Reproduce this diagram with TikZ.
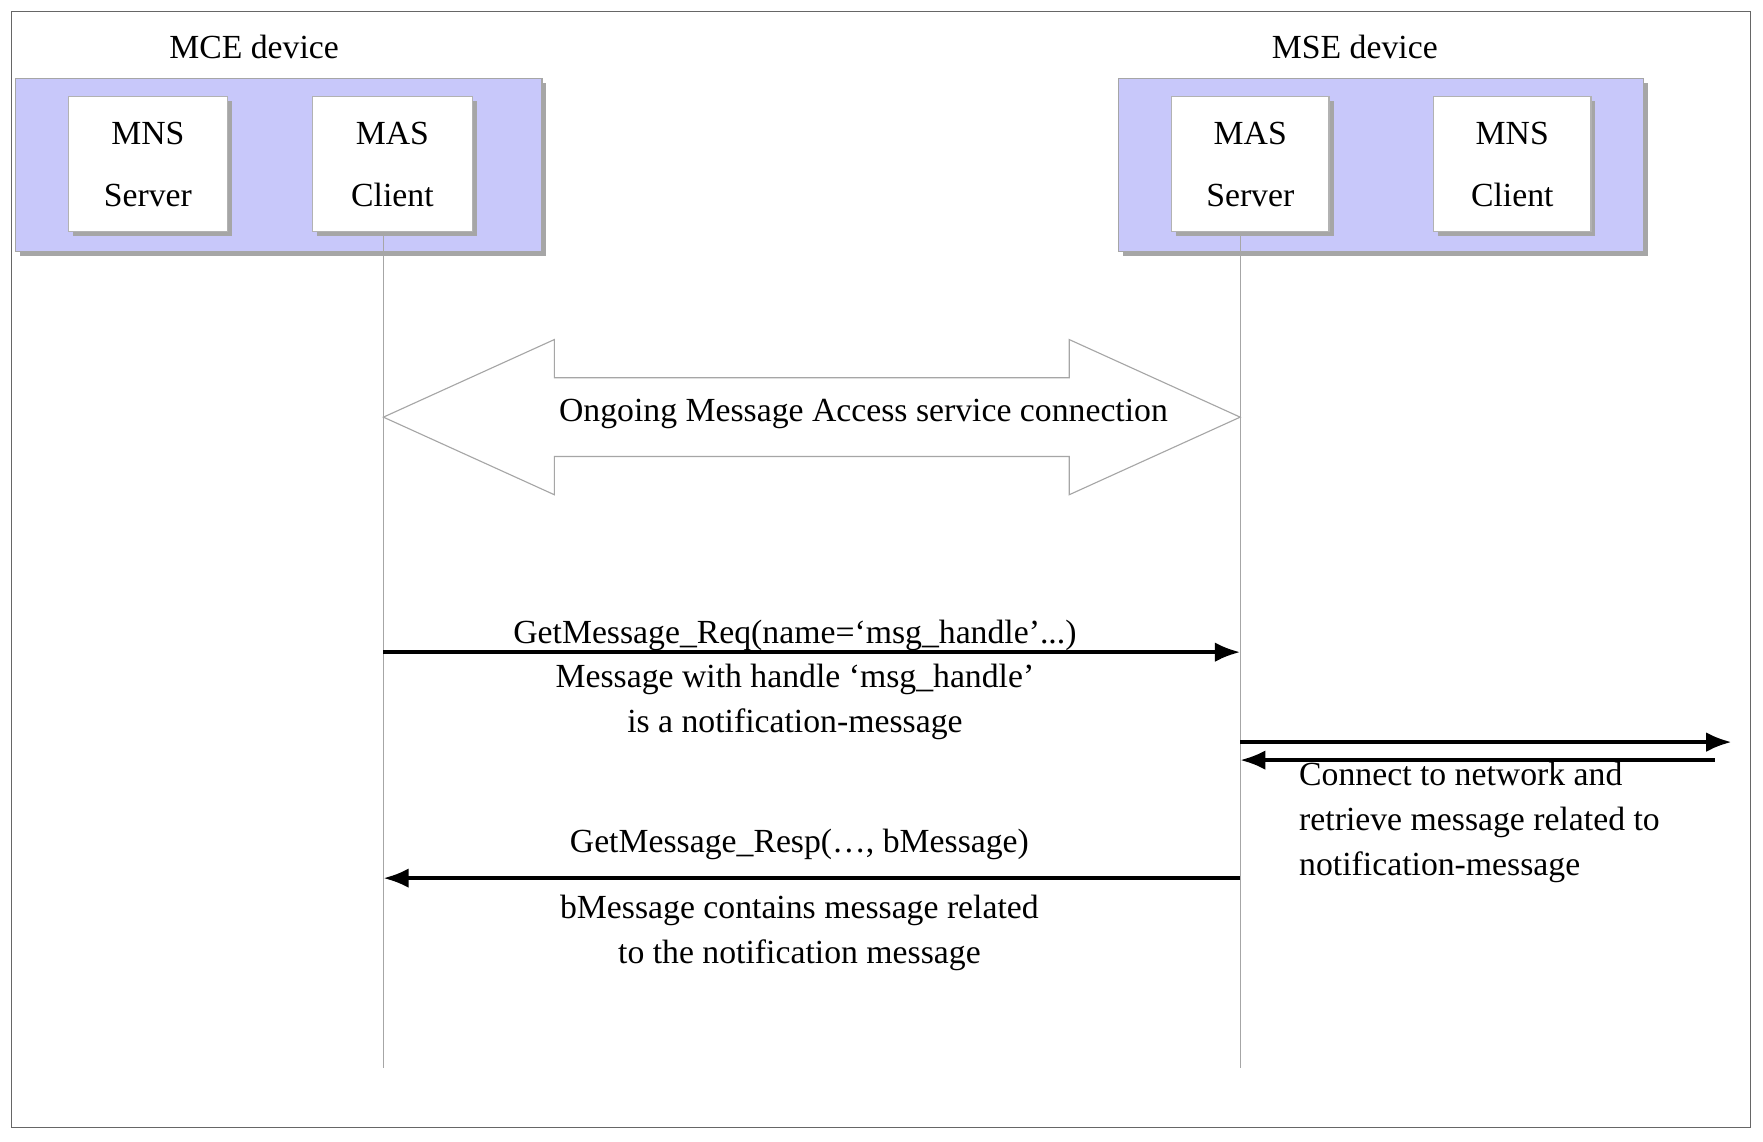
\documentclass[tikz,border=0pt]{standalone}
\usepackage{fontspec}
\setmainfont{Liberation Serif}
\begin{document}
\begin{tikzpicture}[x=0.4pt,y=-0.4pt,
  dev/.style={draw=gray!70,fill={rgb,255:red,200;green,200;blue,250}},
  box/.style={draw=gray!60,fill=white},
  shadow/.style={fill=gray!70,draw=none},
  lbl/.style={font=\fontsize{12}{16}\selectfont,align=center,inner sep=0pt},
  life/.style={draw=gray!70,line width=0.4pt},
  msg/.style={line width=1.3pt,-{Latex[length=9pt,width=7pt]}}]
\usetikzlibrary{arrows.meta}
\useasboundingbox (0,0) rectangle (1568,1015);
\draw[gray!80!black] (10,10) rectangle (1557,1003);
% devices
\fill[shadow] (18,74) rectangle (486,228);
\draw[dev] (14,70) rectangle (482,224);
\fill[shadow] (999,74) rectangle (1466,228);
\draw[dev] (995,70) rectangle (1462,224);
\node[lbl] (mce) at (226,42) {MCE device};
\node[lbl] (mse) at (1205,42) {MSE device};
\foreach \n/\a/\b/\t in {mnss/61/202/{MNS\\[0.5em]Server},masc/278/420/{MAS\\[0.5em]Client},mass/1042/1182/{MAS\\[0.5em]Server},mnsc/1275/1415/{MNS\\[0.5em]Client}}{
  \fill[shadow] (\a+4,90) rectangle (\b+4,210);
  \draw[box] (\a,86) rectangle (\b,206);
  \node[lbl] (\n) at ({(\a+\b)/2},146) {\t};
}
\coordinate (l1t) at (341,206); \coordinate (l1b) at (341,950);
\coordinate (l2t) at (1103,206); \coordinate (l2b) at (1103,950);
\draw[life] (l1t) -- (l1b);
\draw[life] (l2t) -- (l2b);
% double arrow
\draw[gray!70,fill=white,line width=0.4pt] (341,371) -- (493,302) -- (493,336) -- (951,336) -- (951,302) -- (1103,371) -- (951,440) -- (951,406) -- (493,406) -- (493,440) -- cycle;
\node[lbl] (ong) at (768,368) {Ongoing Message Access service connection};
% messages
\coordinate (r1a) at (341,580); \coordinate (r1b) at (1103,580);
\draw[msg] (r1a) -- (r1b);
\node[lbl] (req) at (707,565) {GetMessage\_Req(name=‘msg\_handle’...)};
\node[lbl] (reqn) at (707,624) {Message with handle ‘msg\_handle’\\is a notification-message};
\coordinate (n1a) at (1103,660); \coordinate (n1b) at (1540,660);
\coordinate (n2a) at (1525,676); \coordinate (n2b) at (1103,676);
\draw[msg] (n1a) -- (n1b);
\draw[msg] (n2a) -- (n2b);
\node[lbl,align=left,anchor=north west] (net) at (1155,677) {Connect to network and\\retrieve message related to\\notification-message};
\coordinate (r2a) at (1103,781); \coordinate (r2b) at (341,781);
\draw[msg] (r2a) -- (r2b);
\node[lbl] (resp) at (711,751) {GetMessage\_Resp(…, bMessage)};
\node[lbl] (respn) at (711,830) {bMessage contains message related\\to the notification message};
\end{tikzpicture}
\end{document}
